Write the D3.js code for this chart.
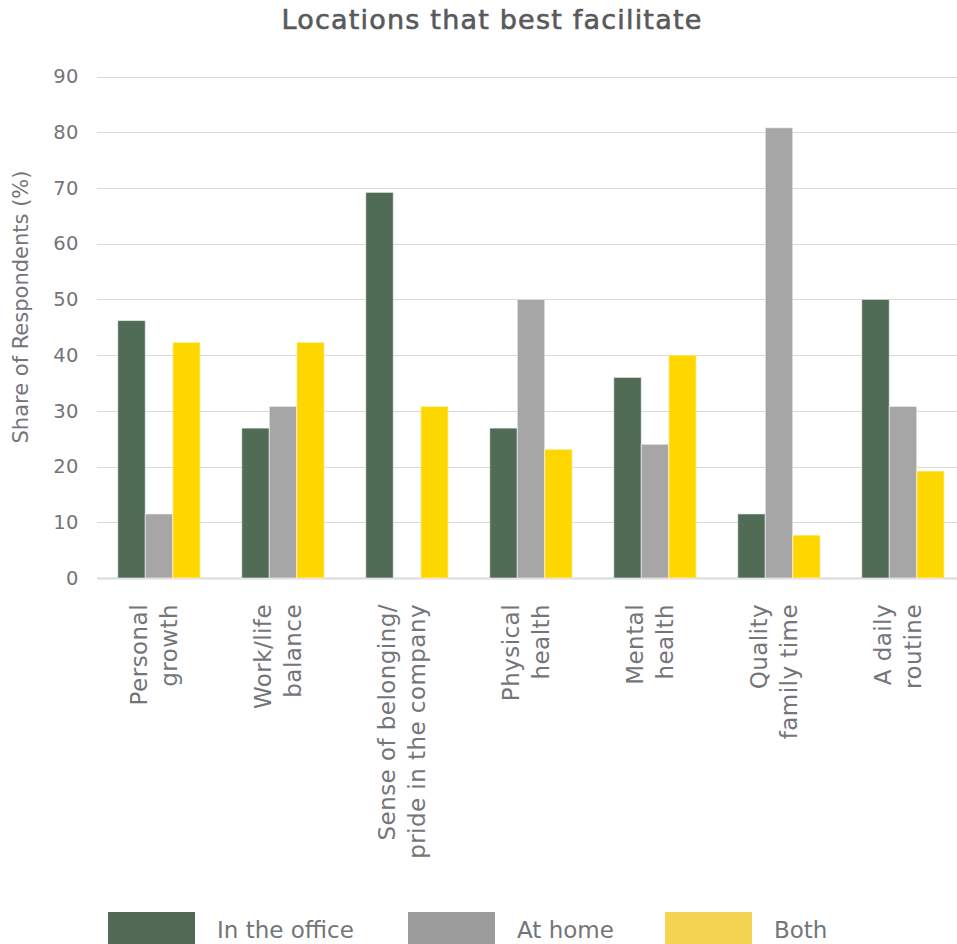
<!DOCTYPE html>
<html>
<head>
<meta charset="utf-8">
<script src="https://cdn.jsdelivr.net/npm/d3@7"></script>
<style>
  html, body { margin: 0; padding: 0; background: #fff; }
  svg { display: block; }
</style>
</head>
<body>
<svg id="chart" width="957" height="944"></svg>
<script>
// Survey results: share of respondents per location, by outcome
const categories = [
  ["Personal", "growth"],
  ["Work/life", "balance"],
  ["Sense of belonging/", "pride in the company"],
  ["Physical", "health"],
  ["Mental", "health"],
  ["Quality", "family time"],
  ["A daily", "routine"]
];
const seriesNames = ["In the office", "At home", "Both"];
const inOffice = [46.2, 26.9, 69.2, 26.9, 36, 11.5, 50];
const atHome   = [11.5, 30.8, 0, 50, 24, 80.8, 30.8];
const both     = [42.3, 42.3, 30.8, 23.1, 40, 7.7, 19.2];
const yTicks = [0, 10, 20, 30, 40, 50, 60, 70, 80, 90];

const barColors = ["#516c56", "#a6a6a6", "#ffd700"];
const legendColors = ["#516b57", "#9b9b9b", "#f5d451"];
const values = [inOffice, atHome, both];

const svg = d3.select("#chart");
const font = "'DejaVu Sans', 'Noto Sans', sans-serif";
const textColor = "#747578";
const W = 957;
const left = 97;

const x0 = d3.scaleBand()
  .domain(d3.range(categories.length))
  .range([left, left + 868])
  .paddingInner(0.335)
  .paddingOuter(0.1675);
const x1 = d3.scaleBand()
  .domain(d3.range(seriesNames.length))
  .range([0, x0.bandwidth()]);
const y = d3.scaleLinear().domain([0, 90]).range([578, 76.5]);

// Title
svg.append("text")
  .attr("x", 492).attr("y", 29)
  .attr("text-anchor", "middle")
  .attr("font-family", font).attr("font-weight", 400)
  .attr("font-size", 27).attr("letter-spacing", 1.2)
  .attr("fill", "#58595b").attr("stroke", "#58595b").attr("stroke-width", 0.6)
  .text("Locations that best facilitate");

// Gridlines
svg.append("g").selectAll("line").data(yTicks).join("line")
  .attr("x1", left).attr("x2", W)
  .attr("y1", d => Math.round(y(d)) + 0.5).attr("y2", d => Math.round(y(d)) + 0.5)
  .attr("stroke", "#d9d9d9")
  .attr("stroke-width", d => d === 0 ? 2 : 1.2);

// Y tick labels
const yAxis = d3.axisLeft(y).tickValues(yTicks).tickSize(0).tickPadding(18)
  .tickFormat(d3.format("d"));
const gy = svg.append("g").attr("transform", `translate(${left},0)`).call(yAxis);
gy.select(".domain").remove();
gy.selectAll("text")
  .attr("font-family", font).attr("font-size", 19.5).attr("fill", textColor)
  .attr("letter-spacing", 0.5);

// Y axis title
svg.append("text")
  .attr("transform", `translate(27.5,307) rotate(-90)`)
  .attr("text-anchor", "middle")
  .attr("font-family", font).attr("font-size", 21).attr("fill", textColor)
  .text("Share of Respondents (%)");

// Bars
const groups = svg.append("g").selectAll("g").data(categories).join("g")
  .attr("transform", (d, i) => `translate(${x0(i)},0)`);
groups.selectAll("rect")
  .data((d, i) => values.map((s, k) => ({ k, v: s[i] })))
  .join("rect")
  .filter(d => d.v > 0)
  .attr("x", d => x1(d.k))
  .attr("width", x1.bandwidth())
  .attr("y", d => y(d.v))
  .attr("height", d => y(0) - y(d.v))
  .attr("fill", d => barColors[d.k])
  .attr("stroke", "#ffffff").attr("stroke-opacity", 0.55).attr("stroke-width", 1);

// Category labels (rotated, two lines)
const lab = svg.append("g").selectAll("text").data(categories).join("text")
  .attr("transform", (d, i) => `translate(${x0(i) + x0.bandwidth() / 2},604) rotate(-90)`)
  .attr("text-anchor", "end")
  .attr("font-family", font).attr("font-size", 23).attr("fill", textColor)
  .attr("letter-spacing", 0.45);
lab.selectAll("tspan").data(d => d).join("tspan")
  .attr("x", 0)
  .attr("y", (d, j) => j === 0 ? -12 : 18)
  .text(d => d);

// Legend
const legendX = [108, 408, 665];
const lg = svg.append("g").selectAll("g").data(seriesNames).join("g")
  .attr("transform", (d, i) => `translate(${legendX[i]},912)`);
lg.append("rect").attr("width", 87).attr("height", 34)
  .attr("fill", (d, i) => legendColors[i]);
lg.append("text")
  .attr("x", 109).attr("y", 26)
  .attr("font-family", font)
  .attr("font-size", 23).attr("fill", textColor)
  .text(d => d);
</script>
</body>
</html>
